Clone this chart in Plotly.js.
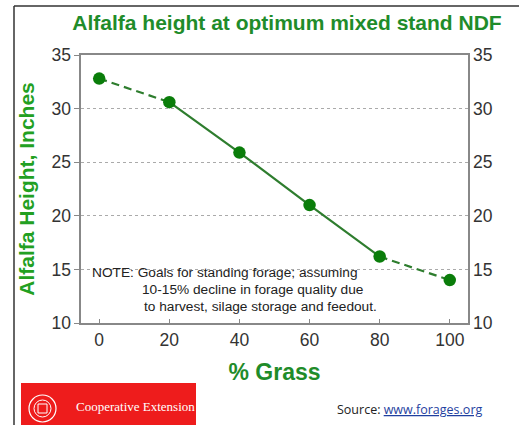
<!DOCTYPE html>
<html>
<head>
<meta charset="utf-8">
<script src="https://cdn.plot.ly/plotly-3.0.1.min.js"></script>
<style>html,body{margin:0;padding:0;background:#fff;}#chart{width:519px;height:425px;}</style>
</head>
<body>
<div id="chart"></div>
<script>
// ---- data ----
const grass = [0, 20, 40, 60, 80, 100];
const height = [32.8, 30.6, 25.9, 21.0, 16.2, 14.0];
const xTicks = [0, 20, 40, 60, 80, 100];
const yTicks = [10, 15, 20, 25, 30, 35];
const titleText = "Alfalfa height at optimum mixed stand NDF";
const xTitle = "% Grass";
const yTitle = "Alfalfa Height, Inches";
const noteLines = [
  "NOTE: Goals for standing forage; assuming",
  "10-15% decline in forage quality due",
  "to harvest, silage storage and feedout."
];

const lineColor = "#2e7d2e";
const markerColor = "#0a7d0a";
const green = "#1f8c2a";
const lineStyle = {color: lineColor, width: 2.2};

const traces = [
  {x: grass.slice(0, 2), y: height.slice(0, 2), mode: "lines", line: Object.assign({dash: "8px,5px"}, lineStyle), hoverinfo: "skip"},
  {x: grass.slice(1, 5), y: height.slice(1, 5), mode: "lines", line: Object.assign({}, lineStyle), hoverinfo: "skip"},
  {x: grass.slice(4, 6), y: height.slice(4, 6), mode: "lines", line: Object.assign({dash: "8px,5px"}, lineStyle), hoverinfo: "skip"},
  {x: grass, y: height, mode: "markers", marker: {color: markerColor, size: 12.5}, hoverinfo: "skip"},
  {x: grass, y: height, yaxis: "y2", mode: "markers", marker: {opacity: 0}, hoverinfo: "skip"}
];

// pixel helpers for paper coords (plot area 81..468 x, 55..323 y)
const L = 81, R = 468, T = 55, B = 323;
const px = v => (v - L) / (R - L);
const py = v => (B - v) / (B - T);

const tickFont = {family: "Liberation Sans, Arial, sans-serif", size: 17.5, color: "#333"};

const layout = {
  width: 519, height: 425,
  margin: {l: L, r: 519 - R, t: T, b: 425 - B},
  paper_bgcolor: "#fff", plot_bgcolor: "#fff",
  showlegend: false,
  title: {text: titleText, x: px(287), xanchor: "center", xref: "paper", y: 1 - 23/425, yanchor: "middle",
          font: {family: "Liberation Sans, Arial, sans-serif", size: 21, weight: "bold", color: green}},
  xaxis: {
    range: [-5.2, 105.2], tickvals: xTicks, ticks: "inside", ticklen: 4, tickcolor: "#888",
    showline: true, linecolor: "#888", linewidth: 1.6, mirror: true, showgrid: false, zeroline: false,
    tickfont: tickFont,
    title: {text: xTitle, standoff: 15, font: {family: "Liberation Sans, Arial, sans-serif", size: 23, weight: "bold", color: green}}
  },
  yaxis: {
    range: [10, 35], tickvals: yTicks, ticks: "outside", ticklen: 5, tickcolor: "#888",
    showline: true, linecolor: "#888", linewidth: 1.6, mirror: true,
    showgrid: true, gridcolor: "#aaa", griddash: "dot", gridwidth: 1.2, zeroline: false,
    tickfont: tickFont,
    title: {text: yTitle, standoff: 11, font: {family: "Liberation Sans, Arial, sans-serif", size: 21, weight: "bold", color: "#22a022"}}
  },
  yaxis2: {
    range: [10, 35], tickvals: yTicks, overlaying: "y", side: "right", anchor: "x",
    ticks: "", showline: false, showgrid: false, zeroline: false, tickfont: tickFont, ticklabelstandoff: 4
  },
  annotations: [
    {text: noteLines[0], x: px(90), y: py(272), xref: "paper", yref: "paper", xanchor: "left", yanchor: "middle", showarrow: false,
     font: {family: "Liberation Sans, Arial, sans-serif", size: 13.7, color: "#222"}},
    {text: noteLines[1], x: px(140), y: py(289), xref: "paper", yref: "paper", xanchor: "left", yanchor: "middle", showarrow: false,
     font: {family: "Liberation Sans, Arial, sans-serif", size: 13.7, color: "#222"}},
    {text: noteLines[2], x: px(142), y: py(306), xref: "paper", yref: "paper", xanchor: "left", yanchor: "middle", showarrow: false,
     font: {family: "Liberation Sans, Arial, sans-serif", size: 13.7, color: "#222"}},
    {text: "Cooperative Extension", x: px(74), y: py(406), xref: "paper", yref: "paper", xanchor: "left", yanchor: "middle", showarrow: false,
     font: {family: "Liberation Serif, Times New Roman, serif", size: 13, color: "#fff"}},
    {text: "Source: <span style='text-decoration:underline;color:#1f3f9f'>www.forages.org</span>", x: px(335), y: py(409), xref: "paper", yref: "paper", xanchor: "left", yanchor: "middle", showarrow: false,
     font: {family: "Open Sans, Liberation Sans, sans-serif", size: 12.5, color: "#222"}}
  ],
  shapes: [
    // page border (left and top)
    {type: "line", xref: "paper", yref: "paper", x0: px(14), x1: px(14), y0: py(6), y1: py(425), line: {color: "#333", width: 1.5}},
    {type: "line", xref: "paper", yref: "paper", x0: px(14), x1: px(519), y0: py(6), y1: py(6), line: {color: "#333", width: 1.5}},
    // red logo box
    {type: "rect", xref: "paper", yref: "paper", x0: px(21), x1: px(196), y0: py(425), y1: py(383), fillcolor: "#ee1c1c", line: {width: 0}},
    // seal
    {type: "circle", xref: "paper", yref: "paper", x0: px(29), x1: px(56), y0: py(422), y1: py(395), line: {color: "#fff", width: 1.2}},
    {type: "circle", xref: "paper", yref: "paper", x0: px(34), x1: px(51), y0: py(417), y1: py(400), line: {color: "#fff", width: 1}},
    {type: "rect", xref: "paper", yref: "paper", x0: px(38), x1: px(47), y0: py(413), y1: py(404), line: {color: "#fff", width: 1}}
  ]
};

Plotly.newPlot("chart", traces, layout, {staticPlot: true, displayModeBar: false});
</script>
</body>
</html>
